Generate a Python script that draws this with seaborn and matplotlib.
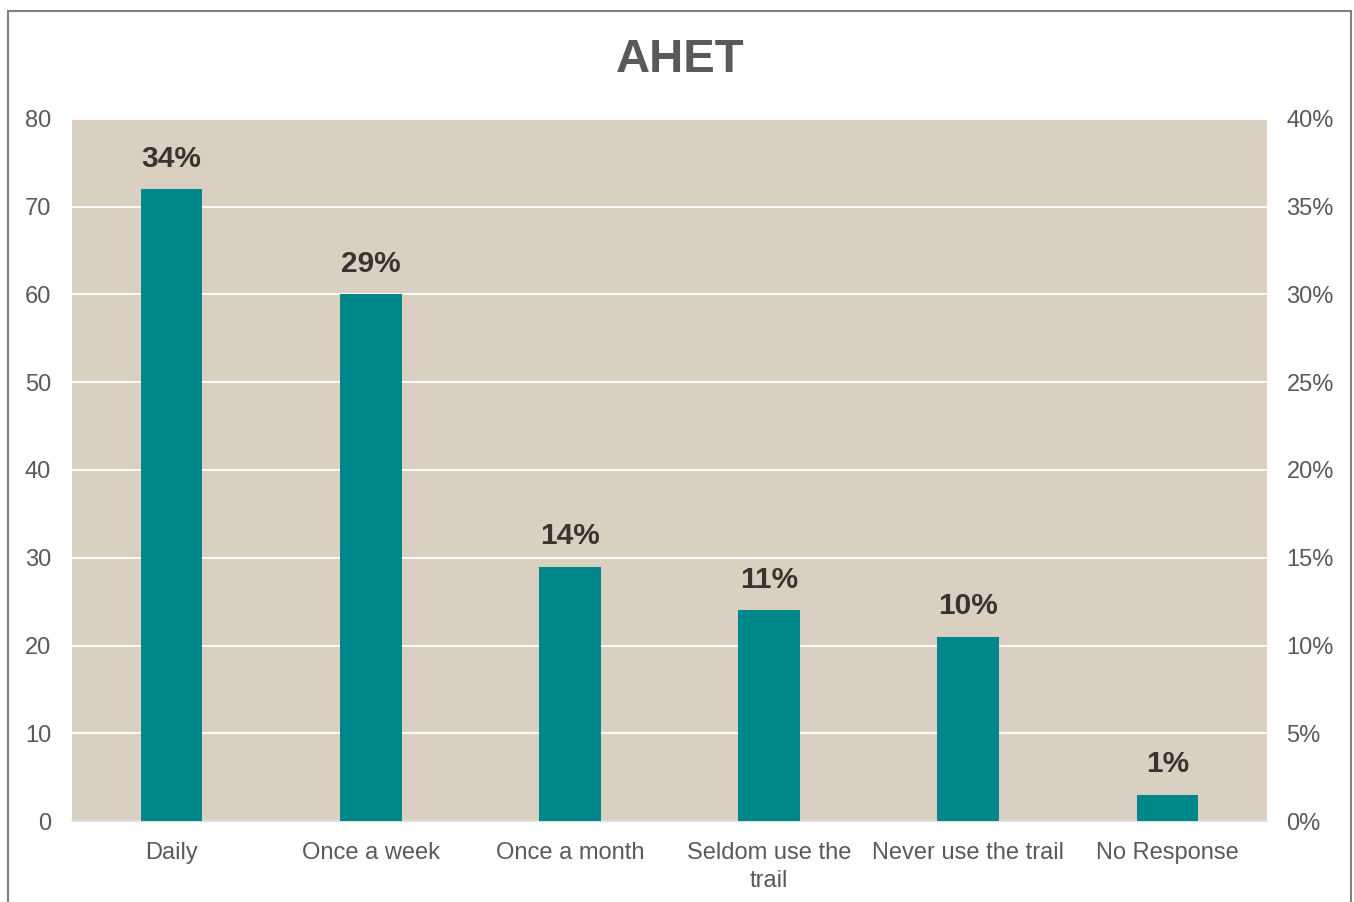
import matplotlib
matplotlib.use("Agg")
import matplotlib.pyplot as plt
import seaborn as sns
from matplotlib.patches import Rectangle

categories = ["Daily", "Once a week", "Once a month", "Seldom use the\ntrail",
              "Never use the trail", "No Response"]
counts = [72, 60, 29, 24, 21, 3]
pct_labels = ["34%", "29%", "14%", "11%", "10%", "1%"]
left_ticks = [0, 10, 20, 30, 40, 50, 60, 70, 80]
right_ticks = ["0%", "5%", "10%", "15%", "20%", "25%", "30%", "35%", "40%"]

sns.set_theme(style="white")
plt.rcParams["font.family"] = ["Liberation Sans", "DejaVu Sans"]

fig = plt.figure(figsize=(13.54, 9.02), dpi=100)
ax = fig.add_axes([72 / 1354, 1 - 821 / 902, (1267 - 72) / 1354, (821 - 119) / 902])
ax.set_facecolor("#D9D0C1")

sns.barplot(x=categories, y=counts, color="#00878A", width=0.31,
            saturation=1, linewidth=0, ax=ax, zorder=3)

ax.set_ylim(0, 80)
ax.set_xlim(-0.5, len(categories) - 0.5)
ax.set_yticks(left_ticks)
ax.yaxis.grid(True, color="white", linewidth=1.3, zorder=0)
ax.set_axisbelow(True)
for s in ["top", "right", "left"]:
    ax.spines[s].set_visible(False)
ax.spines["bottom"].set_color("#D9D9D9")
ax.spines["bottom"].set_linewidth(1.2)
ax.tick_params(axis="both", length=0, labelsize=17, labelcolor="#595959")
ax.tick_params(axis="y", pad=15)
ax.tick_params(axis="x", pad=15)
for t in ax.get_xticklabels():
    t.set_linespacing(1.35)
ax.set_xlabel("")
ax.set_ylabel("")

for i, (v, lab) in enumerate(zip(counts, pct_labels)):
    ax.annotate(lab, (i, v), xytext=(0, 12), textcoords="offset points",
                ha="center", va="bottom", fontsize=21.5, fontweight="bold",
                color="#403030")

ax2 = ax.twinx()
ax2.set_ylim(0, 80)
ax2.set_yticks(left_ticks)
ax2.set_yticklabels(right_ticks)
ax2.tick_params(axis="y", length=0, labelsize=17, labelcolor="#595959", pad=14)
for s in ax2.spines.values():
    s.set_visible(False)
ax2.grid(False)

fig.text(680 / 1354, 1 - 60 / 902, "AHET", ha="center", va="center",
         fontsize=34, fontweight="bold", color="#595959")

fig.patches.append(Rectangle((8 / 1354, -0.1), (1351 - 8) / 1354, 1.1 - 11 / 902,
                             transform=fig.transFigure, fill=False,
                             edgecolor="#808080", linewidth=1.5))

fig.savefig("out.png", dpi=100)
